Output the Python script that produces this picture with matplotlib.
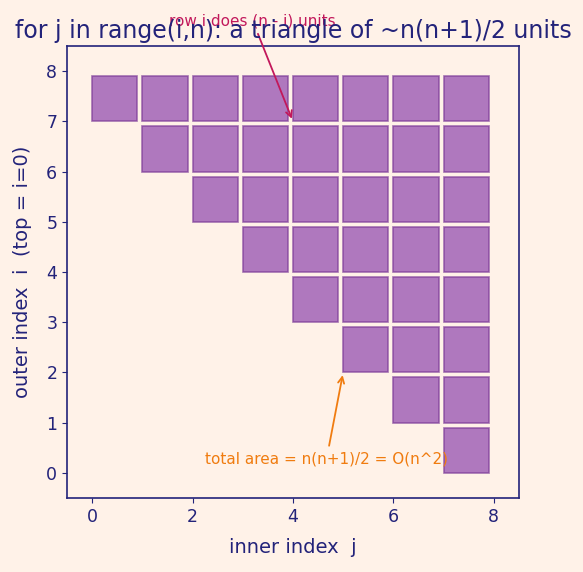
import matplotlib.pyplot as plt
from matplotlib.patches import Rectangle

# triangle of work: row i runs j = i .. n-1
n = 8
rows = list(range(n))
x_ticks = [0, 2, 4, 6, 8]
y_ticks = [0, 1, 2, 3, 4, 5, 6, 7, 8]

ink = '#23237a'
bg = '#fff2e8'

fig = plt.figure(figsize=(5.83, 5.72), dpi=100, facecolor=bg)
ax = fig.add_axes([0.115, 0.129, 0.775, 0.791])
ax.set_facecolor(bg)

for i in rows:
    for j in range(i, n):
        ax.add_patch(Rectangle((j, n - 1 - i), 0.9, 0.9, facecolor='#8e44ad',
                               alpha=0.7, edgecolor='#7d3c98', linewidth=1.2))

ax.set_xlim(-0.5, n + 0.5)
ax.set_ylim(-0.5, n + 0.5)
ax.set_aspect('equal')
ax.set_xticks(x_ticks)
ax.set_yticks(y_ticks)

ax.annotate('row i does (n - i) units', xy=(4, 7), xytext=(3.2, 9.0),
            color='#c2185b', fontsize=11, ha='center', va='center',
            arrowprops=dict(arrowstyle='->', color='#c2185b', lw=1.3),
            annotation_clip=False)
ax.annotate('total area = n(n+1)/2 = O(n^2)', xy=(5, 2), xytext=(4.67, 0.28),
            color='#f07c10', fontsize=11, ha='center', va='center',
            arrowprops=dict(arrowstyle='->', color='#f07c10', lw=1.3))

ax.set_title('for j in range(i,n): a triangle of ~n(n+1)/2 units', color=ink,
             fontsize=17)
ax.set_xlabel('inner index  j', color=ink, fontsize=14, labelpad=9)
ax.set_ylabel('outer index  i  (top = i=0)', color=ink, fontsize=14, labelpad=10)
ax.tick_params(colors=ink, labelsize=12.5)
for s in ax.spines.values():
    s.set_color(ink)
    s.set_linewidth(1.2)

fig.savefig('out.png', facecolor=bg)
